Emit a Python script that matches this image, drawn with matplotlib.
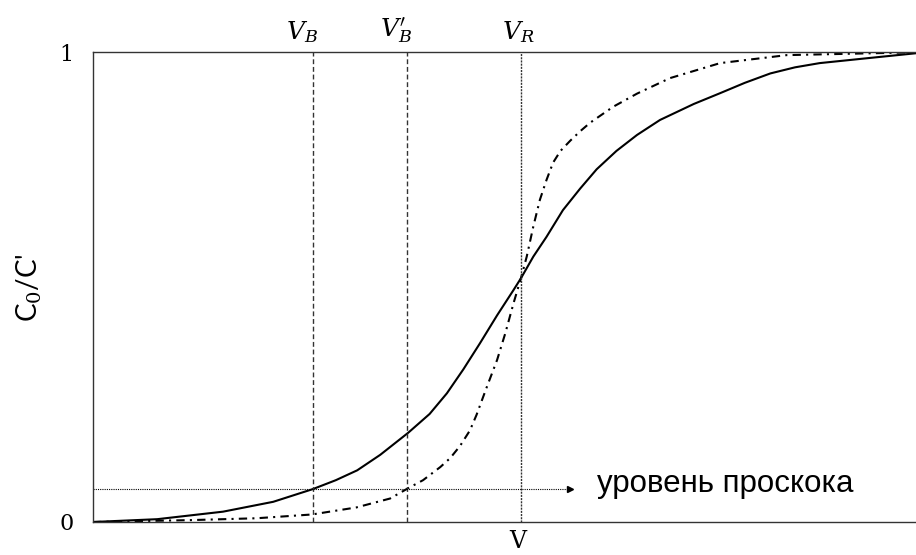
import matplotlib
matplotlib.use("Agg")
import matplotlib.pyplot as plt

# breakthrough curves, V in arbitrary units (0..10)
v_solid = [0.0, 0.78, 1.58, 2.19, 2.67, 2.95, 3.21, 3.49, 3.83, 4.09, 4.30, 4.50,
           4.70, 4.91, 5.11, 5.20, 5.35, 5.51, 5.71, 5.92, 6.12, 6.36, 6.61,
           6.89, 7.30, 7.62, 7.92, 8.23, 8.53, 8.83, 9.44, 10.0]
c_solid = [0.0, 0.006, 0.022, 0.043, 0.07, 0.089, 0.11, 0.143, 0.19, 0.23, 0.274, 0.325,
           0.38, 0.44, 0.494, 0.519, 0.565, 0.607, 0.664, 0.71, 0.751, 0.79, 0.824,
           0.856, 0.89, 0.913, 0.935, 0.955, 0.968, 0.977, 0.988, 0.998]

v_dash = [0.0, 1.18, 1.99, 2.66, 3.20, 3.61, 3.83, 4.01, 4.22, 4.34, 4.46,
          4.58, 4.66, 4.78, 4.91, 5.01, 5.11, 5.20, 5.27, 5.35, 5.43, 5.51,
          5.59, 5.68, 5.80, 5.92, 6.04, 6.32, 6.61, 7.01, 7.62, 8.43, 10.0]
c_dash = [0.0, 0.004, 0.008, 0.016, 0.031, 0.050, 0.072, 0.089, 0.117, 0.136, 0.162,
          0.195, 0.228, 0.285, 0.345, 0.402, 0.466, 0.519, 0.565, 0.629, 0.686, 0.728,
          0.765, 0.79, 0.812, 0.832, 0.85, 0.884, 0.912, 0.945, 0.977, 0.994, 1.0]

# marked volumes and breakthrough level
v_b = 2.67
v_b2 = 3.82
v_r = 5.20
level = 0.07
arrow_end = 5.80

plt.rcParams['mathtext.fontset'] = 'dejavuserif'

fig = plt.figure(figsize=(9.16, 5.55), dpi=100)
ax = fig.add_axes([93 / 916, 33 / 555, 1 - 93 / 916, 469.7 / 555])

ax.plot(v_solid, c_solid, color='black', lw=1.5, solid_joinstyle='round')
ax.plot(v_dash, c_dash, color='black', lw=1.5, linestyle=(0, (4, 2.5, 1, 2.5)))

ax.plot([v_b, v_b], [0, 1], color='#333333', lw=1.0, linestyle=(0, (3.5, 2)))
ax.plot([v_b2, v_b2], [0, 1], color='#333333', lw=1.0, linestyle=(0, (3.5, 2)))
ax.plot([v_r, v_r], [0, 1], color='#333333', lw=1.0, linestyle=(0, (1.5, 0.8)))

# breakthrough level with arrow
ax.plot([0, arrow_end], [level, level], color='black', lw=0.8, linestyle=(0, (1, 1)))
ax.plot(arrow_end, level, marker='>', color='black', markersize=5)
ax.text(6.12, level + 0.01, 'уровень проскока', fontsize=22.5,
        family='Liberation Sans', va='center', ha='left')

ax.text(v_b - 0.13, 1.015, r'$V_B$', fontsize=18, ha='center', va='bottom')
ax.text(v_b2 - 0.14, 1.015, r"$V_B'$", fontsize=18, ha='center', va='bottom')
ax.text(v_r - 0.03, 1.015, r'$V_R$', fontsize=18, ha='center', va='bottom')

ax.set_xlim(0, 10)
ax.set_ylim(0, 1)
ax.set_xticks([])
ax.set_yticks([0, 1])
ax.set_yticklabels(['0', '1'], fontsize=16, family='DejaVu Serif')
ax.tick_params(axis='y', length=0, pad=14)

ax.text(v_r - 0.04, -0.056, 'V', fontsize=17, family='DejaVu Serif',
        ha='center', va='baseline')
ax.set_ylabel("C$_0$/C'", fontsize=20, family='Lato', labelpad=11)

for side in ['left', 'top', 'bottom']:
    ax.spines[side].set_color('#333333')
    ax.spines[side].set_linewidth(1.0)
ax.spines['right'].set_visible(False)

fig.savefig('out.png', dpi=100)
